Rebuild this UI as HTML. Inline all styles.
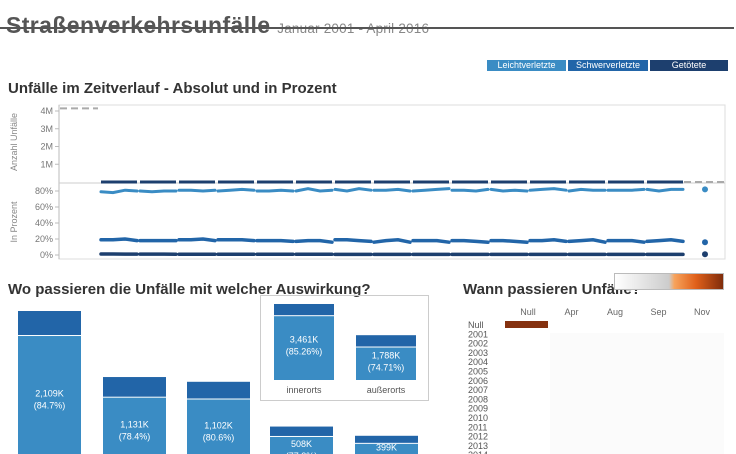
<!DOCTYPE html>
<html><head><meta charset="utf-8"><style>
body{margin:0;width:736px;height:454px;overflow:hidden;background:#fff;font-family:"Liberation Sans",sans-serif;position:relative}
.a{position:absolute}
.h{font-weight:bold;color:#333;font-size:15px}
.btn{position:absolute;top:60px;height:11px;font-size:9px;color:#fff;text-align:center;line-height:11px}
</style></head><body>
<div class="a" style="left:6px;top:12px;font-size:23px;font-weight:bold;color:#555;letter-spacing:0.4px;white-space:nowrap">Straßenverkehrsunfälle <span style="font-size:13.5px;font-weight:normal;color:#888;letter-spacing:0.2px">Januar 2001 - April 2016</span></div>
<div class="a" style="left:0;top:27px;width:734px;height:2px;background:#555"></div>
<div class="btn" style="left:487px;width:79px;background:#3a8cc4">Leichtverletzte</div>
<div class="btn" style="left:568px;width:80px;background:#2265a8">Schwerverletzte</div>
<div class="btn" style="left:650px;width:78px;background:#1d3f6e">Getötete</div>
<div class="a h" style="left:8px;top:80px">Unfälle im Zeitverlauf - Absolut und in Prozent</div>
<svg class="a" style="left:0;top:0" width="736" height="454" id="ts"></svg>
<div class="a h" style="left:8px;top:281px">Wo passieren die Unfälle mit welcher Auswirkung?</div>
<div class="a" style="left:260px;top:295px;width:167px;height:104px;border:1px solid #ccc"></div>
<svg class="a" style="left:0;top:0" width="736" height="454" id="bars"></svg>
<div class="a h" style="left:463px;top:281px">Wann passieren Unfälle?</div>
<div class="a" style="left:614px;top:273px;width:108px;height:15px;border:1px solid #bbb;background:linear-gradient(90deg,#fff,#ccc 50%,#f7a35c 55%,#e0601a 75%,#7f2c0b)"></div>
<svg class="a" style="left:0;top:0" width="736" height="454" id="hm"></svg>
<script>
const NS='http://www.w3.org/2000/svg';
function mk(svg,t,a,txt){const e=document.createElementNS(NS,t);for(const k in a)e.setAttribute(k,a[k]);if(txt!==undefined)e.textContent=txt;svg.appendChild(e);return e;}
const years=[2001,2002,2003,2004,2005,2006,2007,2008,2009,2010,2011,2012,2013,2014,2015];
const leicht=[79,78,81,80,80,79,80,80,81,81,80,81,80,81,82,81,80,80,81,80,80,83,80,81,82,80,83,81,81,81,82,80,80,81,82,83,81,81,80,82,82,80,81,80,81,82,83,81,80,82,81,81,81,81,81,82,82,80,82,82];
const schwer=[19,19,20,18,18,18,18,18,19,19,20,18,19,19,19,18,18,18,18,17,17,18,18,16,19,19,18,17,16,18,19,16,18,18,18,16,18,18,17,16,18,18,17,16,18,18,19,17,17,18,19,16,18,18,18,16,17,18,19,17];
const getoetet=[1.2,1.2,1.1,1.1,1.1,1.1,1.1,1.0,1.0,1.0,1.0,1.0,1.0,1.0,1.0,0.9,0.9,0.9,0.9,0.9,0.9,0.9,0.9,0.9,0.8,0.8,0.8,0.8,0.8,0.8,0.8,0.8,0.8,0.8,0.8,0.8,0.8,0.8,0.8,0.8,0.8,0.8,0.8,0.8,0.8,0.8,0.8,0.8,0.8,0.8,0.8,0.8,0.8,0.8,0.8,0.8,0.8,0.8,0.8,0.8];
const last2016=[82,16,1];
const absTicks=['4M','3M','2M','1M'];
const absTickVals=[4,3,2,1];
const pctTicks=['80%','60%','40%','20%','0%'];
const pctTickVals=[80,60,40,20,0];
const ts=document.getElementById('ts');
const yAbs=v=>182-v*17.75, yPct=v=>255-v*0.8;
const xYear=(i,q)=>101+i*39+q*12;
mk(ts,'rect',{x:59,y:105,width:666,height:154,fill:'none',stroke:'#ddd'});
mk(ts,'line',{x1:59,y1:105,x2:59,y2:259,stroke:'#bbb'});
mk(ts,'line',{x1:59,y1:183,x2:725,y2:183,stroke:'#ccc'});
absTicks.forEach((t,i)=>{const y=yAbs(absTickVals[i]);mk(ts,'text',{x:53,y:y+3,'font-size':9,fill:'#777','text-anchor':'end'},t);mk(ts,'line',{x1:55,y1:y,x2:59,y2:y,stroke:'#bbb'});});
pctTicks.forEach((t,i)=>{const y=yPct(pctTickVals[i]);mk(ts,'text',{x:53,y:y+3,'font-size':9,fill:'#777','text-anchor':'end'},t);mk(ts,'line',{x1:55,y1:y,x2:59,y2:y,stroke:'#bbb'});});
mk(ts,'text',{transform:'translate(17,142) rotate(-90)','font-size':9,fill:'#888','text-anchor':'middle'},'Anzahl Unfälle');
mk(ts,'text',{transform:'translate(17,222) rotate(-90)','font-size':9,fill:'#888','text-anchor':'middle'},'In Prozent');
mk(ts,'line',{x1:60,y1:yAbs(4.15),x2:98,y2:yAbs(4.15),stroke:'#aaa','stroke-width':2,'stroke-dasharray':'7,4'});
mk(ts,'line',{x1:684,y1:182,x2:725,y2:182,stroke:'#aaa','stroke-width':2,'stroke-dasharray':'7,4'});
const series=[[leicht,'#3a8cc4',3],[schwer,'#2265a8',3.5],[getoetet,'#1d3f6e',3.5]];
years.forEach((yr,i)=>{
  const g=mk(ts,'g',{});
  
  
  mk(g,'line',{x1:xYear(i,0),y1:182,x2:xYear(i,3),y2:182,stroke:'#1d3f6e','stroke-width':3});
  series.forEach(([d,c,w])=>{let p='';for(let q=0;q<4;q++)p+=(q?'L':'M')+xYear(i,q)+','+yPct(d[i*4+q]);mk(g,'path',{d:p,fill:'none',stroke:c,'stroke-width':w,'stroke-linecap':'round'});});
});
series.forEach(([d,c],k)=>{const e=mk(ts,'circle',{cx:705,cy:yPct(last2016[k]),r:3,fill:c});});
const barLeicht=[2109,1131,1102,508,399];
const barPct=[84.7,78.4,80.6,77.3,78.1];
const insetCats=['innerorts','außerorts'];
const insetLeicht=[3461,1788];
const insetPct=[85.26,74.71];
const bs=document.getElementById('bars');
function bar(x,w,base,sc,val,pct,name){
  const tot=val/(pct/100), h=tot*sc, hl=val*sc;
  const r1=mk(bs,'rect',{x:x,y:base-h,width:w,height:h-hl,fill:'#2265a8'});
  
  const r2=mk(bs,'rect',{x:x,y:base-hl+1,width:w,height:hl-1,fill:'#3a8cc4'});
  
  const cy=base-hl/2;
  mk(bs,'text',{x:x+w/2,y:cy-5,'font-size':9,fill:'#fff','text-anchor':'middle'},val.toLocaleString('en-US')+'K');
  mk(bs,'text',{x:x+w/2,y:cy+7,'font-size':9,fill:'#fff','text-anchor':'middle'},'('+pct+'%)');
}
const barX=[18,103,187,270,355];
barLeicht.forEach((v,i)=>bar(barX[i],63,468,157/2490,v,barPct[i],'bar-'+i));
insetLeicht.forEach((v,i)=>{const x=[274,356][i];bar(x,60,380,76/4059,v,insetPct[i],'inset-bar-'+i);
  mk(bs,'text',{x:x+30,y:393,'font-size':9,fill:'#555','text-anchor':'middle'},insetCats[i]);});
const hmCols=['Null','Apr','Aug','Sep','Nov'];
const hmRows=['Null','2001','2002','2003','2004','2005','2006','2007','2008','2009','2010','2011','2012','2013','2014'];
const hm=document.getElementById('hm');
hmCols.forEach((c,i)=>mk(hm,'text',{x:528+i*43.5,y:315,'font-size':9,fill:'#666','text-anchor':'middle'},c));
hmRows.forEach((r,i)=>mk(hm,'text',{x:468,y:328+i*9.3,'font-size':9,fill:'#555'},r));
mk(hm,'rect',{x:550,y:333,width:174,height:121,fill:'#fbfbfb'});
const nc=mk(hm,'rect',{x:505,y:321,width:43,height:7,fill:'#85310f'});


</script>
</body></html>
